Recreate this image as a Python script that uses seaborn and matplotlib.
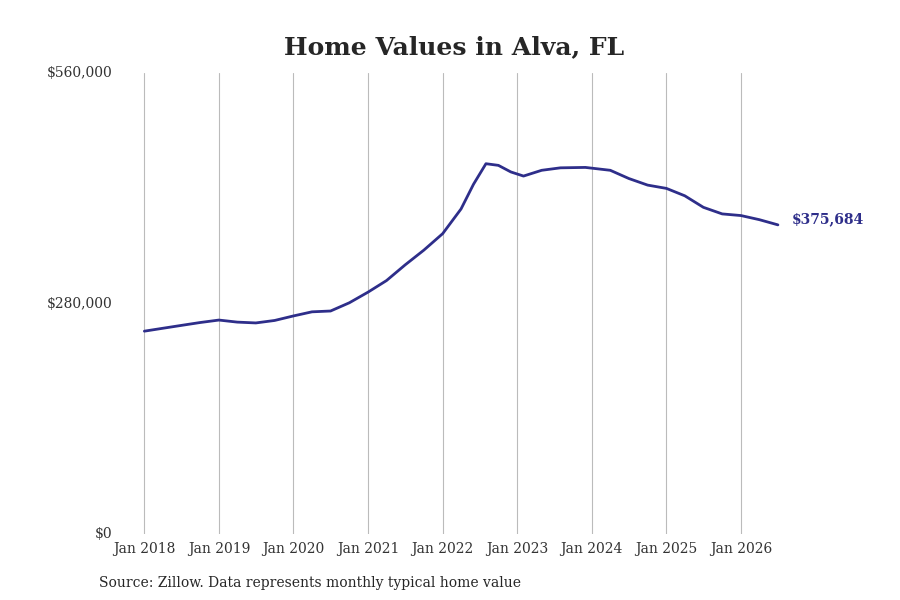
import matplotlib.pyplot as plt
import matplotlib.dates as mdates
import pandas as pd
import seaborn as sns

dates = ["2018-01", "2018-04", "2018-07", "2018-10", "2019-01", "2019-04", "2019-07",
         "2019-10", "2020-01", "2020-04", "2020-07", "2020-10", "2021-01", "2021-04",
         "2021-07", "2021-10", "2022-01", "2022-04", "2022-06", "2022-08", "2022-10",
         "2022-12", "2023-02", "2023-05", "2023-08", "2023-12", "2024-04", "2024-07",
         "2024-10", "2025-01", "2025-04", "2025-07", "2025-10", "2026-01", "2026-04",
         "2026-07"]
values = [246500, 250000, 253500, 257000, 260000, 257500, 256500, 259500, 265000, 270000,
          271000, 281000, 294000, 308000, 327000, 345000, 365000, 395000, 425000, 450000,
          448000, 440000, 435000, 442000, 445000, 445500, 442000, 432000, 424000, 420000,
          411000, 397000, 389000, 387000, 382000, 375684]

df = pd.DataFrame({"date": pd.to_datetime(dates), "value": values})

sns.set_style("white")
plt.rcParams["font.family"] = ["DejaVu Serif"]

fig, ax = plt.subplots(figsize=(9, 6), dpi=100)
fig.subplots_adjust(left=0.13, right=0.88, top=0.878, bottom=0.11)
color = "#2e2e8a"
sns.lineplot(data=df, x="date", y="value", ax=ax, color=color, linewidth=2)

ax.set_ylim(0, 560000)
ax.set_xlim(pd.Timestamp("2017-08-20"), pd.Timestamp("2026-09-08"))
ax.set_yticks([0, 280000, 560000])
ax.yaxis.set_major_formatter(lambda v, p: f"${v:,.0f}")
ax.xaxis.set_major_locator(mdates.YearLocator())
ax.xaxis.set_major_formatter(mdates.DateFormatter("Jan %Y"))
ax.grid(axis="x", color="#bbbbbb", linewidth=0.8)
ax.grid(axis="y", visible=False)
for s in ax.spines.values():
    s.set_visible(False)
ax.tick_params(labelsize=10, colors="#333333", length=0)
ax.tick_params(axis="x", pad=6)
ax.set_xlabel("")
ax.set_ylabel("")
for lab in ax.get_yticklabels():
    lab.set_verticalalignment("center")

ax.annotate(f"${values[-1]:,}", (df["date"].iloc[-1], values[-1]), xytext=(10, 4),
            textcoords="offset points", color=color, fontweight="bold", fontsize=10,
            va="center", annotation_clip=False)
ax.set_title("Home Values in Alva, FL", fontsize=18, fontweight="bold", pad=14)
fig.text(0.11, 0.022, "Source: Zillow. Data represents monthly typical home value", fontsize=10)

plt.savefig("out.png", dpi=100)
